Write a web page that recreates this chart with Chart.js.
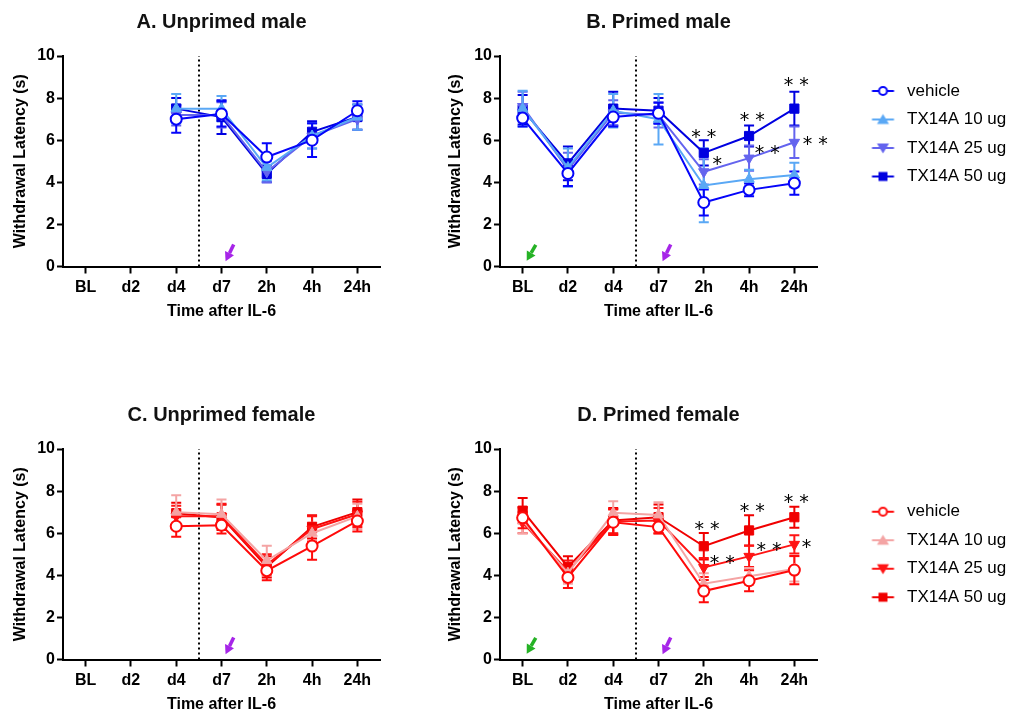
<!DOCTYPE html>
<html>
<head>
<meta charset="utf-8">
<script src="https://cdn.jsdelivr.net/npm/chart.js@4.4.1/dist/chart.umd.min.js"></script>
<style>
  body { margin: 0; background: #fff; }
  #wrap { position: relative; width: 1011px; height: 715px; }
  canvas { position: absolute; }
</style>
</head>
<body>
<div id="wrap">
  <canvas id="chartA" width="430" height="340" style="left:0;top:0"></canvas>
  <canvas id="chartB" width="581" height="340" style="left:430px;top:0"></canvas>
  <canvas id="chartC" width="430" height="340" style="left:0;top:393px"></canvas>
  <canvas id="chartD" width="581" height="340" style="left:430px;top:393px"></canvas>
</div>
<script>
// categories and series
const categories = ['BL', 'd2', 'd4', 'd7', '2h', '4h', '24h'];
const seriesNames = ['vehicle', 'TX14A 10 ug', 'TX14A 25 ug', 'TX14A 50 ug'];
const yTicks = [0, 2, 4, 6, 8, 10];

// A. Unprimed male
const aVehicle = [null, null, 7.0, 7.25, 5.2, 6.0, 7.4];
const aTx10 = [null, null, 7.5, 7.5, 4.7, 6.2, 7.1];
const aTx25 = [null, null, 7.2, 7.2, 4.5, 6.2, 7.0];
const aTx50 = [null, null, 7.5, 7.1, 4.4, 6.4, 7.1];
const aVehicleSem = [null, null, 0.65, 0.6, 0.65, 0.8, 0.45];
const aTx10Sem = [null, null, 0.7, 0.6, 0.6, 0.6, 0.6];
const aTx25Sem = [null, null, 0.5, 0.6, 0.5, 0.6, 0.5];
const aTx50Sem = [null, null, 0.5, 0.8, 0.4, 0.5, 0.6];

// B. Primed male
const bVehicle = [7.05, 4.42, 7.1, 7.28, 3.04, 3.64, 3.96];
const bTx10 = [7.5, 4.7, 7.4, 7.0, 3.85, 4.15, 4.35];
const bTx25 = [7.6, 4.6, 7.3, 7.2, 4.5, 5.15, 5.9];
const bTx50 = [7.45, 4.9, 7.5, 7.4, 5.4, 6.2, 7.5];
const bVehicleSem = [0.4, 0.6, 0.45, 0.5, 0.62, 0.3, 0.55];
const bTx10Sem = [0.85, 0.9, 0.8, 1.2, 1.75, 0.45, 0.58];
const bTx25Sem = [0.7, 0.8, 0.6, 0.6, 0.6, 0.6, 0.75];
const bTx50Sem = [0.7, 0.8, 0.8, 0.6, 0.6, 0.5, 0.8];

// C. Unprimed female
const cVehicle = [null, null, 6.33, 6.38, 4.22, 5.39, 6.58];
const cTx10 = [null, null, 7.0, 6.9, 4.7, 6.0, 6.8];
const cTx25 = [null, null, 6.8, 6.8, 4.5, 6.2, 6.9];
const cTx50 = [null, null, 6.95, 6.75, 4.4, 6.3, 7.0];
const cVehicleSem = [null, null, 0.5, 0.4, 0.45, 0.65, 0.5];
const cTx10Sem = [null, null, 0.8, 0.7, 0.7, 0.5, 0.6];
const cTx25Sem = [null, null, 0.5, 0.6, 0.5, 0.6, 0.6];
const cTx50Sem = [null, null, 0.5, 0.6, 0.5, 0.55, 0.6];

// D. Primed female
const dVehicle = [6.73, 3.9, 6.52, 6.29, 3.25, 3.74, 4.25];
const dTx10 = [6.6, 4.1, 6.97, 6.87, 3.6, 3.95, 4.3];
const dTx25 = [6.5, 4.2, 6.55, 6.6, 4.37, 4.9, 5.47];
const dTx50 = [7.07, 4.4, 6.6, 6.76, 5.38, 6.13, 6.76];
const dVehicleSem = [0.5, 0.5, 0.6, 0.3, 0.53, 0.5, 0.67];
const dTx10Sem = [0.6, 0.5, 0.55, 0.6, 0.5, 0.4, 0.6];
const dTx25Sem = [0.5, 0.5, 0.6, 0.6, 0.45, 0.5, 0.43];
const dTx50Sem = [0.6, 0.5, 0.6, 0.6, 0.63, 0.72, 0.5];

// significance marks (x in category units, y in seconds)
const bStarX = [4.0, 4.3, 5.07, 5.4, 6.04, 6.46];
const bStarY = [6.4, 5.11, 7.23, 5.66, 8.86, 6.09];
const bStarText = ['* *', '*', '* *', '* *', '* *', '* *'];
const dStarX = [4.07, 4.41, 5.07, 5.44, 6.04, 6.27];
const dStarY = [6.47, 4.85, 7.29, 5.44, 7.73, 5.6];
const dStarText = ['* *', '* *', '* *', '* *', '* *', '*'];

const FONT = "'Liberation Sans', Arial, sans-serif";
const STAR_FONT = "'DejaVu Sans', sans-serif";
const bluePalette = ['#0505FA', '#5AA8F5', '#6464EE', '#0000E0'];
const redPalette = ['#FF0A0A', '#F4A4A4', '#FF1414', '#F00000'];
const purple = '#A625E8';
const green = '#25B225';

Chart.defaults.color = '#000';
Chart.defaults.font.family = FONT;

function legendIcon(color, shape) {
    const c = document.createElement('canvas');
    c.width = 70;
    c.height = 16;
    const g = c.getContext('2d');
    g.strokeStyle = color;
    g.fillStyle = color;
    g.lineWidth = 2;
    g.beginPath();
    g.moveTo(43.5, 8);
    g.lineTo(65.5, 8);
    g.stroke();
    g.beginPath();
    if (shape === 'circle') {
        g.arc(54.5, 8, 4, 0, Math.PI * 2);
        g.fillStyle = '#fff';
        g.fill();
        g.stroke();
    } else if (shape === 'up') {
        g.moveTo(54.5, 2.5); g.lineTo(60.5, 12.5); g.lineTo(48.5, 12.5); g.closePath(); g.fill();
    } else if (shape === 'down') {
        g.moveTo(54.5, 13.5); g.lineTo(60.5, 3.5); g.lineTo(48.5, 3.5); g.closePath(); g.fill();
    } else {
        g.rect(50, 3.5, 9, 9); g.fill();
    }
    return c;
}

function drawArrow(ctx, x0, y0, x1, y1, color) {
    const ang = Math.atan2(y1 - y0, x1 - x0);
    const head = 9;
    const bx = x1 - head * Math.cos(ang), by = y1 - head * Math.sin(ang);
    ctx.save();
    ctx.strokeStyle = color;
    ctx.fillStyle = color;
    ctx.lineWidth = 3.5;
    ctx.beginPath();
    ctx.moveTo(x0, y0);
    ctx.lineTo(bx, by);
    ctx.stroke();
    ctx.beginPath();
    ctx.moveTo(x1, y1);
    ctx.lineTo(bx + 5 * Math.sin(ang), by - 5 * Math.cos(ang));
    ctx.lineTo(bx - 5 * Math.sin(ang), by + 5 * Math.cos(ang));
    ctx.closePath();
    ctx.fill();
    ctx.restore();
}

// dotted divider, error bars, arrows and asterisks
const extras = {
    id: 'extras',
    beforeDatasetsDraw(chart, args, opts) {
        const { ctx, scales: { x, y } } = chart;
        ctx.save();
        ctx.strokeStyle = '#000';
        ctx.lineWidth = 2;
        ctx.setLineDash([2, 3]);
        const dx = Math.round(x.getPixelForValue(opts.divider));
        ctx.beginPath();
        ctx.moveTo(dx, y.getPixelForValue(0));
        ctx.lineTo(dx, y.getPixelForValue(10));
        ctx.stroke();
        ctx.restore();

        for (let d = chart.data.datasets.length - 1; d >= 0; d--) {
            const ds = chart.data.datasets[d];
            const meta = chart.getDatasetMeta(d);
            ctx.save();
            ctx.strokeStyle = ds.borderColor;
            ctx.lineWidth = 2;
            ds.data.forEach((v, i) => {
                if (v === null || ds.sem[i] === null) return;
                const px = meta.data[i].x;
                const top = y.getPixelForValue(v + ds.sem[i]);
                const bot = y.getPixelForValue(v - ds.sem[i]);
                ctx.beginPath();
                ctx.moveTo(px, top); ctx.lineTo(px, bot);
                ctx.moveTo(px - 5, top); ctx.lineTo(px + 5, top);
                ctx.moveTo(px - 5, bot); ctx.lineTo(px + 5, bot);
                ctx.stroke();
            });
            ctx.restore();
        }
    },
    afterDatasetsDraw(chart, args, opts) {
        const { ctx, scales: { x, y } } = chart;
        opts.arrows.forEach(a => {
            drawArrow(ctx, x.getPixelForValue(a.from[0]), y.getPixelForValue(a.from[1]),
                x.getPixelForValue(a.to[0]), y.getPixelForValue(a.to[1]), a.color);
        });
        ctx.save();
        ctx.fillStyle = '#000';
        ctx.font = '19px ' + STAR_FONT;
        ctx.textAlign = 'center';
        ctx.textBaseline = 'alphabetic';
        opts.starText.forEach((t, i) => {
            ctx.fillText(t, x.getPixelForValue(opts.starX[i]), y.getPixelForValue(opts.starY[i]) + 11.2);
        });
        ctx.restore();
    }
};

function makePanel(id, title, palette, values, sems, primed, legendGap, starX, starY, starText) {
    const shapes = ['circle', 'up', 'down', 'rect'];
    const datasets = values.map((vals, i) => ({
        label: seriesNames[i],
        data: vals,
        sem: sems[i],
        borderColor: palette[i],
        backgroundColor: i === 0 ? '#fff' : palette[i],
        borderWidth: 2,
        pointStyle: ['circle', 'triangle', 'triangle', 'rect'][i],
        pointRotation: i === 2 ? 180 : 0,
        pointRadius: [5.5, 6, 6, 6.5][i],
        pointBorderWidth: i === 0 ? 2 : 1,
        tension: 0
    }));
    const icons = palette.map((c, i) => legendIcon(c, shapes[i]));
    const arrows = [{ from: [3.27, 1.05], to: [3.09, 0.25], color: purple }];
    if (primed) arrows.push({ from: [0.29, 1.03], to: [0.09, 0.27], color: green });

    return new Chart(document.getElementById(id), {
        type: 'line',
        data: { labels: categories, datasets: datasets },
        options: {
            responsive: false,
            animation: false,
            events: [],
            layout: { padding: primed ? { left: 5, right: 4, top: 0, bottom: 14.5 } : { left: 0, right: 50, top: 0, bottom: 14.5 } },
            scales: {
                x: {
                    type: 'category',
                    offset: true,
                    grid: { offset: false, drawOnChartArea: false, drawTicks: true, tickLength: 7, tickWidth: 2, tickColor: '#000' },
                    border: { color: '#000', width: 2 },
                    ticks: { padding: 4, font: { size: 16, weight: 'bold' }, color: '#000' },
                    title: { display: true, text: 'Time after IL-6', padding: { top: 4, bottom: 4 }, font: { size: 16, weight: 'bold' }, color: '#000' },
                    afterFit(s) { s.height = 59; }
                },
                y: {
                    min: 0,
                    max: 10,
                    afterBuildTicks(s) { s.ticks = yTicks.map(v => ({ value: v })); },
                    grid: { drawOnChartArea: false, drawTicks: true, tickLength: 6, tickWidth: 2, tickColor: '#000' },
                    border: { color: '#000', width: 2 },
                    ticks: { padding: 2, font: { size: 16, weight: 'bold' }, color: '#000' },
                    title: { display: true, text: 'Withdrawal Latency (s)', padding: { top: 11, bottom: 0 }, font: { size: 16, weight: 'bold' }, color: '#000' },
                    afterFit(s) { s.width = primed ? 65 : 63; }
                }
            },
            plugins: {
                title: {
                    display: true,
                    text: title,
                    fullSize: false,
                    font: { size: 20, weight: 'bold' },
                    color: '#111',
                    padding: { top: 10, bottom: 22 }
                },
                legend: {
                    display: primed,
                    position: 'right',
                    align: 'start',
                    fullSize: false,
                    maxWidth: 190,
                    title: { display: true, text: '', font: { size: 10 }, padding: { top: 0, bottom: legendGap } },
                    labels: {
                        usePointStyle: true,
                        pointStyleWidth: 70,
                        padding: 11.5,
                        color: '#1a1a1a',
                        font: { size: 17 },
                        generateLabels: () => seriesNames.map((n, i) => ({
                            text: n,
                            pointStyle: icons[i],
                            fillStyle: palette[i],
                            strokeStyle: palette[i],
                            lineWidth: 0,
                            hidden: false,
                            datasetIndex: i
                        }))
                    }
                },
                tooltip: { enabled: false },
                extras: { divider: 2.5, arrows: arrows, starX: starX, starY: starY, starText: starText }
            }
        },
        plugins: [extras]
    });
}

makePanel('chartA', 'A. Unprimed male', bluePalette,
    [aVehicle, aTx10, aTx25, aTx50], [aVehicleSem, aTx10Sem, aTx25Sem, aTx50Sem], false, 0, [], [], []);
makePanel('chartB', 'B. Primed male', bluePalette,
    [bVehicle, bTx10, bTx25, bTx50], [bVehicleSem, bTx10Sem, bTx25Sem, bTx50Sem], true, 3, bStarX, bStarY, bStarText);
makePanel('chartC', 'C. Unprimed female', redPalette,
    [cVehicle, cTx10, cTx25, cTx50], [cVehicleSem, cTx10Sem, cTx25Sem, cTx50Sem], false, 0, [], [], []);
makePanel('chartD', 'D. Primed female', redPalette,
    [dVehicle, dTx10, dTx25, dTx50], [dVehicleSem, dTx10Sem, dTx25Sem, dTx50Sem], true, 30.7, dStarX, dStarY, dStarText);
</script>
</body>
</html>
